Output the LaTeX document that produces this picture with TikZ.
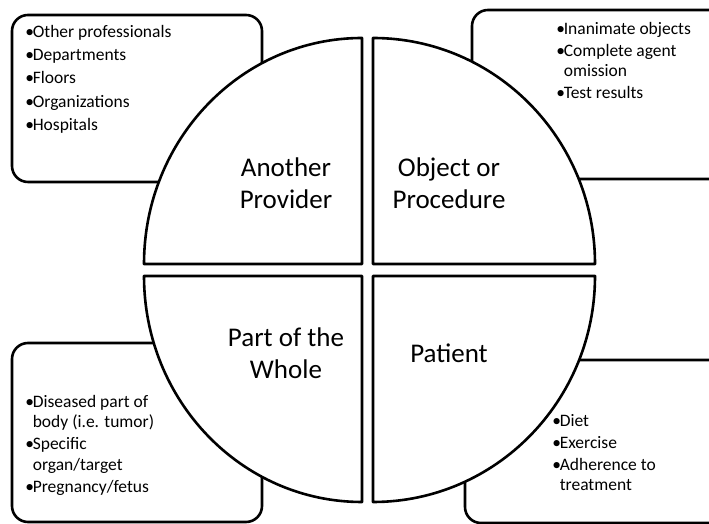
\documentclass[tikz,border=0pt]{standalone}
\usepackage{fontspec}
\setmainfont{Carlito}

\newcommand{\bul}{\makebox[7.5pt][l]{\textbullet}}
\newcommand{\ind}{\hspace*{7.5pt}}

\begin{document}
\begin{tikzpicture}[x=1pt, y=1pt, line width=2.6pt, line join=round]

  % Node styles
  \tikzstyle{quad}=[draw, fill=white]
  \tikzstyle{listbox}=[draw, fill=white, rounded corners=16pt]
  \tikzstyle{qlabel}=[align=center, inner sep=0pt, font=\fontsize{27}{32}\selectfont]
  \tikzstyle{blist}=[align=left, inner sep=0pt, anchor=north west, font=\fontsize{17.5}{20.5}\selectfont]

  \useasboundingbox (0,0) rectangle (709,524);

  % Boxes behind the circle
  \draw[listbox] (12,509) rectangle (262,342);
  \draw[listbox] (472,514) rectangle (725,345);
  \draw[listbox] (12,181) rectangle (262,2);
  \draw[listbox] (465,164) rectangle (725,1);

  % Quarters of the circle
  \draw[quad] (362,260) -- ++(-218,0) arc[start angle=180, end angle=90, x radius=218, y radius=226] -- cycle;
  \draw[quad] (373,260) -- ++(0,226) arc[start angle=90, end angle=0, x radius=222, y radius=226] -- cycle;
  \draw[quad] (362,248) -- ++(-218,0) arc[start angle=180, end angle=270, x radius=218, y radius=226] -- cycle;
  \draw[quad] (373,248) -- ++(0,-226) arc[start angle=270, end angle=360, x radius=222, y radius=226] -- cycle;

  % Quarter labels
  \node[qlabel] (provider) at (286,341) {Another\\Provider};
  \node[qlabel] (object) at (449,341) {Object or\\Procedure};
  \node[qlabel] (whole) at (286,171) {Part of the\\Whole};
  \node[qlabel] (patient) at (449,171) {Patient};

  % Lists
  \node[blist] (provlist) at (24,499.5) {\bul Other professionals\\[2.5pt] \bul Departments\\[2.5pt] \bul Floors\\[3pt] \bul Organizations\\[2.5pt] \bul Hospitals};
  \node[blist] (objlist) at (555,503) {\bul Inanimate objects\\[1.5pt] \bul Complete agent\\ \ind omission\\[1.5pt] \bul Test results};
  \node[blist] (wholelist) at (24,130) {\bul Diseased part of\\ \ind body (i.e. tumor)\\[1.5pt] \bul Specific\\ \ind organ/target\\[2pt] \bul Pregnancy/fetus};
  \node[blist] (patlist) at (551,111) {\bul Diet\\[1.5pt] \bul Exercise\\[1.5pt] \bul Adherence to\\ \ind treatment};

\end{tikzpicture}
\end{document}
